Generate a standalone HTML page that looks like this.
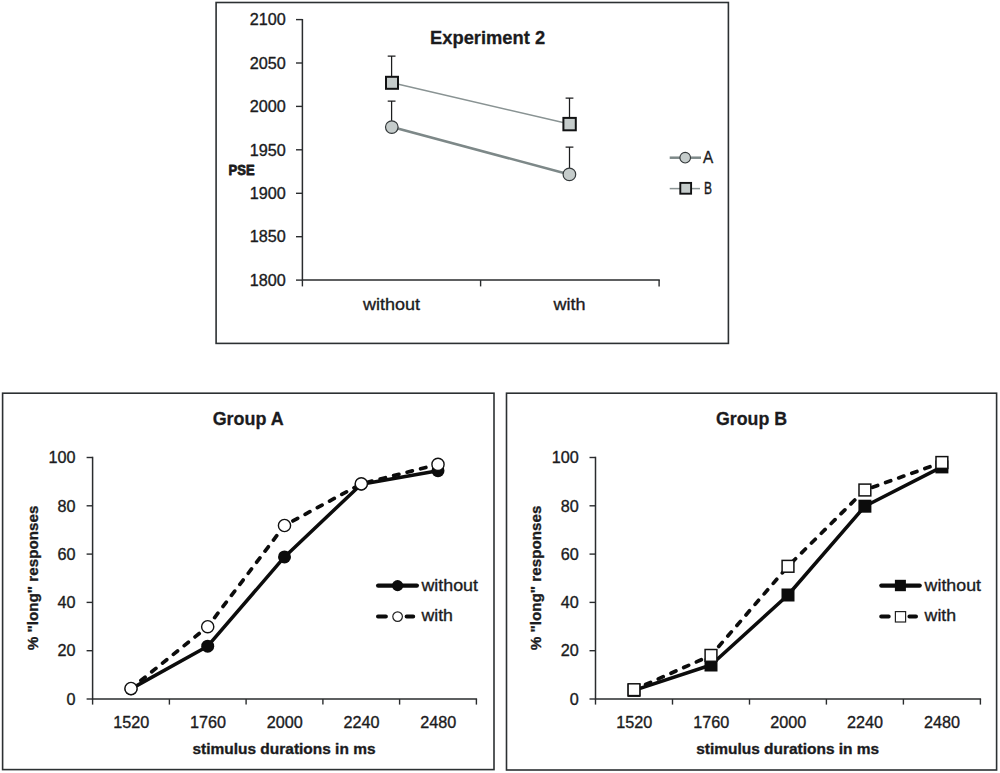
<!DOCTYPE html>
<html><head><meta charset="utf-8"><title>Figure</title>
<style>html,body{margin:0;padding:0;background:#fff;overflow:hidden}svg{display:block}text{font-family:"Liberation Sans",sans-serif;fill:#1b1b1d;stroke:#1b1b1d;stroke-width:0.35px;stroke-linejoin:round}text[font-weight=bold]{stroke-width:0.3px}</style></head><body>
<svg width="1000" height="773" viewBox="0 0 1000 773">
<rect x="0" y="0" width="1000" height="773" fill="#ffffff"/>
<g id="top">
<rect x="216.1" y="2.5" width="512.3" height="340.9" fill="#fff" stroke="#2c3032" stroke-width="1.6"/>
<path d="M302.4 18.900000000000002 V280.1 H659.8" fill="none" stroke="#2a2c2e" stroke-width="1.5"/>
<path d="M296 19.6 H302.4" stroke="#2a2c2e" stroke-width="1.4"/>
<text x="285.8" y="25.3" font-size="16.2" text-anchor="end">2100</text>
<path d="M296 63.0 H302.4" stroke="#2a2c2e" stroke-width="1.4"/>
<text x="285.8" y="68.7" font-size="16.2" text-anchor="end">2050</text>
<path d="M296 106.4 H302.4" stroke="#2a2c2e" stroke-width="1.4"/>
<text x="285.8" y="112.1" font-size="16.2" text-anchor="end">2000</text>
<path d="M296 149.8 H302.4" stroke="#2a2c2e" stroke-width="1.4"/>
<text x="285.8" y="155.5" font-size="16.2" text-anchor="end">1950</text>
<path d="M296 193.3 H302.4" stroke="#2a2c2e" stroke-width="1.4"/>
<text x="285.8" y="199.0" font-size="16.2" text-anchor="end">1900</text>
<path d="M296 236.7 H302.4" stroke="#2a2c2e" stroke-width="1.4"/>
<text x="285.8" y="242.4" font-size="16.2" text-anchor="end">1850</text>
<path d="M296 280.1 H302.4" stroke="#2a2c2e" stroke-width="1.4"/>
<text x="285.8" y="285.8" font-size="16.2" text-anchor="end">1800</text>
<path d="M302.4 280.1 V286.4" stroke="#2a2c2e" stroke-width="1.4"/>
<path d="M480.6 280.1 V286.4" stroke="#2a2c2e" stroke-width="1.4"/>
<path d="M659.1 280.1 V286.4" stroke="#2a2c2e" stroke-width="1.4"/>
<text x="487.6" y="43.9" font-size="19" font-weight="bold" text-anchor="middle" textLength="115" lengthAdjust="spacingAndGlyphs">Experiment 2</text>
<text x="228.6" y="175" font-size="15.2" font-weight="bold" text-anchor="start" textLength="26" lengthAdjust="spacingAndGlyphs" style="stroke-width:0.8px">PSE</text>
<text x="391.5" y="309.5" font-size="17.2" text-anchor="middle" textLength="57" lengthAdjust="spacingAndGlyphs">without</text>
<text x="569.5" y="309.5" font-size="17.2" text-anchor="middle" textLength="32" lengthAdjust="spacingAndGlyphs">with</text>
<path d="M392 127.1 L569.5 174.4" stroke="#7d8888" stroke-width="2.6"/>
<path d="M392 82.8 L569.5 124.1" stroke="#899393" stroke-width="1.5"/>
<path d="M391.6 82 V56.1 M387.70000000000005 56.1 H395.5" fill="none" stroke="#1c1d1e" stroke-width="1.25"/>
<path d="M391.6 126 V101.1 M387.70000000000005 101.1 H395.5" fill="none" stroke="#1c1d1e" stroke-width="1.25"/>
<path d="M569.5 123 V98.2 M565.6 98.2 H573.4" fill="none" stroke="#1c1d1e" stroke-width="1.25"/>
<path d="M569.5 174 V147.1 M565.6 147.1 H573.4" fill="none" stroke="#1c1d1e" stroke-width="1.25"/>
<rect x="386.00" y="76.80" width="12.0" height="12.0" fill="#c5cccb" stroke="#111213" stroke-width="2"/>
<rect x="563.40" y="117.90" width="12.4" height="12.4" fill="#c5cccb" stroke="#111213" stroke-width="2"/>
<circle cx="391.8" cy="127.1" r="6.3" fill="#c5cccb" stroke="#33383a" stroke-width="1.2"/>
<circle cx="569.4" cy="174.4" r="6.3" fill="#c5cccb" stroke="#33383a" stroke-width="1.2"/>
<path d="M669.7 157.7 H701" stroke="#7d8888" stroke-width="2.5"/>
<circle cx="685.2" cy="157.7" r="5.3" fill="#c5cccb" stroke="#33383a" stroke-width="1.1"/>
<path d="M669.7 188.6 H700" stroke="#899393" stroke-width="1.5"/>
<rect x="680.30" y="182.90" width="10.8" height="10.8" fill="#c5cccb" stroke="#111213" stroke-width="1.9"/>
<text x="703.0" y="162.7" font-size="15.8" text-anchor="start" textLength="10.2" lengthAdjust="spacingAndGlyphs">A</text>
<text x="703.9" y="193.8" font-size="15.8" text-anchor="start" textLength="8.0" lengthAdjust="spacingAndGlyphs">B</text>
</g>
<g>
<rect x="2.6" y="393.2" width="491.4" height="376.4" fill="#fff" stroke="#2c3032" stroke-width="1.6"/>
<path d="M92.6 456.8 V699.0 H477.09999999999997" fill="none" stroke="#2a2c2e" stroke-width="1.5"/>
<path d="M86.6 457.5 H92.6" stroke="#2a2c2e" stroke-width="1.4"/>
<text x="75.6" y="463.2" font-size="16.2" text-anchor="end">100</text>
<path d="M86.6 505.8 H92.6" stroke="#2a2c2e" stroke-width="1.4"/>
<text x="75.6" y="511.5" font-size="16.2" text-anchor="end">80</text>
<path d="M86.6 554.1 H92.6" stroke="#2a2c2e" stroke-width="1.4"/>
<text x="75.6" y="559.8" font-size="16.2" text-anchor="end">60</text>
<path d="M86.6 602.4 H92.6" stroke="#2a2c2e" stroke-width="1.4"/>
<text x="75.6" y="608.1" font-size="16.2" text-anchor="end">40</text>
<path d="M86.6 650.7 H92.6" stroke="#2a2c2e" stroke-width="1.4"/>
<text x="75.6" y="656.4" font-size="16.2" text-anchor="end">20</text>
<path d="M86.6 699.0 H92.6" stroke="#2a2c2e" stroke-width="1.4"/>
<text x="75.6" y="704.7" font-size="16.2" text-anchor="end">0</text>
<path d="M92.6 699.0 V704.6" stroke="#2a2c2e" stroke-width="1.4"/>
<text x="131.2" y="727.6" font-size="16.2" text-anchor="middle" textLength="36" lengthAdjust="spacingAndGlyphs">1520</text>
<path d="M169.4 699.0 V704.6" stroke="#2a2c2e" stroke-width="1.4"/>
<text x="207.9" y="727.6" font-size="16.2" text-anchor="middle" textLength="36" lengthAdjust="spacingAndGlyphs">1760</text>
<path d="M246.1 699.0 V704.6" stroke="#2a2c2e" stroke-width="1.4"/>
<text x="284.7" y="727.6" font-size="16.2" text-anchor="middle" textLength="36" lengthAdjust="spacingAndGlyphs">2000</text>
<path d="M322.9 699.0 V704.6" stroke="#2a2c2e" stroke-width="1.4"/>
<text x="361.5" y="727.6" font-size="16.2" text-anchor="middle" textLength="36" lengthAdjust="spacingAndGlyphs">2240</text>
<path d="M399.6 699.0 V704.6" stroke="#2a2c2e" stroke-width="1.4"/>
<text x="438.2" y="727.6" font-size="16.2" text-anchor="middle" textLength="36" lengthAdjust="spacingAndGlyphs">2480</text>
<path d="M476.4 699.0 V704.6" stroke="#2a2c2e" stroke-width="1.4"/>
<text x="248.2" y="425.4" font-size="19" font-weight="bold" text-anchor="middle" textLength="71" lengthAdjust="spacingAndGlyphs">Group A</text>
<text x="284.0" y="754" font-size="15.4" font-weight="bold" text-anchor="middle" textLength="183" lengthAdjust="spacingAndGlyphs" style="stroke-width:0.35px">stimulus durations in ms</text>
<text transform="translate(38.3 577.9) rotate(-90)" font-size="15.4" font-weight="bold" style="stroke-width:0.35px" text-anchor="middle" textLength="144.6" lengthAdjust="spacingAndGlyphs">% &quot;long&quot; responses</text>
<path d="M131.0 688.9 L207.7 646.2 L284.5 556.9 L361.3 484.2 L438.0 470.7" fill="none" stroke="#0c0c0c" stroke-width="3.5" stroke-linejoin="round" stroke-linecap="round"/>
<path d="M131.0 688.5 L207.7 626.7 L284.5 525.5 L361.3 483.8 L438.0 464.4" fill="none" stroke="#0c0c0c" stroke-width="3.7" stroke-dasharray="5.4 8.5" stroke-dashoffset="1.2" stroke-linecap="round"/>
<circle cx="131.0" cy="688.9" r="6.5" fill="#0c0c0c"/>
<circle cx="207.7" cy="646.2" r="6.5" fill="#0c0c0c"/>
<circle cx="284.5" cy="556.9" r="6.5" fill="#0c0c0c"/>
<circle cx="361.3" cy="484.2" r="6.5" fill="#0c0c0c"/>
<circle cx="438.0" cy="470.7" r="6.5" fill="#0c0c0c"/>
<circle cx="131.0" cy="688.5" r="6.1" fill="#fff" stroke="#111" stroke-width="1.4"/>
<circle cx="207.7" cy="626.7" r="6.1" fill="#fff" stroke="#111" stroke-width="1.4"/>
<circle cx="284.5" cy="525.5" r="6.1" fill="#fff" stroke="#111" stroke-width="1.4"/>
<circle cx="361.3" cy="483.8" r="6.1" fill="#fff" stroke="#111" stroke-width="1.4"/>
<circle cx="438.0" cy="464.4" r="6.1" fill="#fff" stroke="#111" stroke-width="1.4"/>
<path d="M378.2 585.6 H416.8" stroke="#0c0c0c" stroke-width="4.4" stroke-linecap="round"/>
<path d="M378.0 616.6 H385.90000000000003 M406.6 616.6 H413.2" stroke="#0c0c0c" stroke-width="4" stroke-linecap="round"/>
<circle cx="397.6" cy="585.6" r="5.6" fill="#0c0c0c"/>
<circle cx="397.6" cy="616.6" r="4.8" fill="#fff" stroke="#222" stroke-width="1.2"/>
<text x="421.4" y="590.8" font-size="17.2" text-anchor="start" textLength="56.6" lengthAdjust="spacingAndGlyphs">without</text>
<text x="421.4" y="621.4" font-size="17.2" text-anchor="start" textLength="31.6" lengthAdjust="spacingAndGlyphs">with</text>
</g>
<g>
<rect x="506.5" y="393.2" width="490.1" height="376.8" fill="#fff" stroke="#2c3032" stroke-width="1.6"/>
<path d="M595.5 456.8 V699.0 H981.1" fill="none" stroke="#2a2c2e" stroke-width="1.5"/>
<path d="M589.5 457.5 H595.5" stroke="#2a2c2e" stroke-width="1.4"/>
<text x="578.8" y="463.2" font-size="16.2" text-anchor="end">100</text>
<path d="M589.5 505.8 H595.5" stroke="#2a2c2e" stroke-width="1.4"/>
<text x="578.8" y="511.5" font-size="16.2" text-anchor="end">80</text>
<path d="M589.5 554.1 H595.5" stroke="#2a2c2e" stroke-width="1.4"/>
<text x="578.8" y="559.8" font-size="16.2" text-anchor="end">60</text>
<path d="M589.5 602.4 H595.5" stroke="#2a2c2e" stroke-width="1.4"/>
<text x="578.8" y="608.1" font-size="16.2" text-anchor="end">40</text>
<path d="M589.5 650.7 H595.5" stroke="#2a2c2e" stroke-width="1.4"/>
<text x="578.8" y="656.4" font-size="16.2" text-anchor="end">20</text>
<path d="M589.5 699.0 H595.5" stroke="#2a2c2e" stroke-width="1.4"/>
<text x="578.8" y="704.7" font-size="16.2" text-anchor="end">0</text>
<path d="M595.5 699.0 V704.6" stroke="#2a2c2e" stroke-width="1.4"/>
<text x="634.2" y="727.6" font-size="16.2" text-anchor="middle" textLength="36" lengthAdjust="spacingAndGlyphs">1520</text>
<path d="M672.5 699.0 V704.6" stroke="#2a2c2e" stroke-width="1.4"/>
<text x="711.2" y="727.6" font-size="16.2" text-anchor="middle" textLength="36" lengthAdjust="spacingAndGlyphs">1760</text>
<path d="M749.5 699.0 V704.6" stroke="#2a2c2e" stroke-width="1.4"/>
<text x="788.2" y="727.6" font-size="16.2" text-anchor="middle" textLength="36" lengthAdjust="spacingAndGlyphs">2000</text>
<path d="M826.4 699.0 V704.6" stroke="#2a2c2e" stroke-width="1.4"/>
<text x="865.1" y="727.6" font-size="16.2" text-anchor="middle" textLength="36" lengthAdjust="spacingAndGlyphs">2240</text>
<path d="M903.4 699.0 V704.6" stroke="#2a2c2e" stroke-width="1.4"/>
<text x="942.1" y="727.6" font-size="16.2" text-anchor="middle" textLength="36" lengthAdjust="spacingAndGlyphs">2480</text>
<path d="M980.4 699.0 V704.6" stroke="#2a2c2e" stroke-width="1.4"/>
<text x="751.5" y="425.4" font-size="19" font-weight="bold" text-anchor="middle" textLength="71" lengthAdjust="spacingAndGlyphs">Group B</text>
<text x="787.7" y="754" font-size="15.4" font-weight="bold" text-anchor="middle" textLength="183" lengthAdjust="spacingAndGlyphs" style="stroke-width:0.35px">stimulus durations in ms</text>
<text transform="translate(541.3 577.9) rotate(-90)" font-size="15.4" font-weight="bold" style="stroke-width:0.35px" text-anchor="middle" textLength="144.6" lengthAdjust="spacingAndGlyphs">% &quot;long&quot; responses</text>
<path d="M634.0 690.4 L711.0 665.0 L788.0 595.0 L864.9 506.2 L941.9 466.9" fill="none" stroke="#0c0c0c" stroke-width="3.5" stroke-linejoin="round" stroke-linecap="round"/>
<path d="M634.0 689.7 L711.0 655.4 L788.0 566.3 L864.9 490.0 L941.9 462.5" fill="none" stroke="#0c0c0c" stroke-width="3.7" stroke-dasharray="5.4 8.5" stroke-dashoffset="1.2" stroke-linecap="round"/>
<rect x="627.5" y="683.9" width="13" height="13" fill="#0c0c0c"/>
<rect x="704.5" y="658.5" width="13" height="13" fill="#0c0c0c"/>
<rect x="781.5" y="588.5" width="13" height="13" fill="#0c0c0c"/>
<rect x="858.4" y="499.7" width="13" height="13" fill="#0c0c0c"/>
<rect x="935.4" y="460.4" width="13" height="13" fill="#0c0c0c"/>
<rect x="628.1" y="683.8" width="11.8" height="11.8" fill="#fff" stroke="#111" stroke-width="1.5"/>
<rect x="705.1" y="649.5" width="11.8" height="11.8" fill="#fff" stroke="#111" stroke-width="1.5"/>
<rect x="782.1" y="560.4" width="11.8" height="11.8" fill="#fff" stroke="#111" stroke-width="1.5"/>
<rect x="859.0" y="484.1" width="11.8" height="11.8" fill="#fff" stroke="#111" stroke-width="1.5"/>
<rect x="936.0" y="456.6" width="11.8" height="11.8" fill="#fff" stroke="#111" stroke-width="1.5"/>
<path d="M881.4 585.6 H919.5999999999999" stroke="#0c0c0c" stroke-width="4.4" stroke-linecap="round"/>
<path d="M881.1999999999999 616.6 H888.6999999999999 M909.4 616.6 H916.0" stroke="#0c0c0c" stroke-width="4" stroke-linecap="round"/>
<rect x="894.9" y="579.8" width="11" height="11.4" fill="#0c0c0c"/>
<rect x="895.4" y="611.6" width="10.2" height="10.4" fill="#fff" stroke="#222" stroke-width="1.2"/>
<text x="924.6" y="590.8" font-size="17.2" text-anchor="start" textLength="56.4" lengthAdjust="spacingAndGlyphs">without</text>
<text x="924.6" y="621.4" font-size="17.2" text-anchor="start" textLength="31.6" lengthAdjust="spacingAndGlyphs">with</text>
</g>
</svg></body></html>
